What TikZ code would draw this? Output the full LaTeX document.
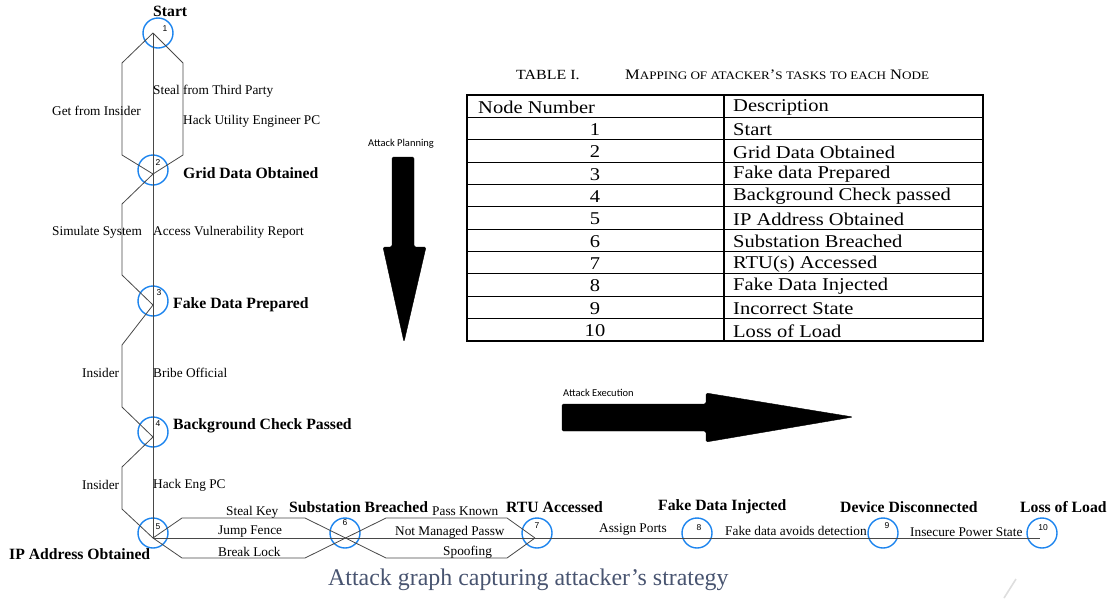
\documentclass[tikz,border=0pt]{standalone}
\usepackage{fontspec}
\setmainfont{Liberation Serif}
\newfontfamily\tabfont[FakeStretch=1.14]{Liberation Serif}
\newfontfamily\capfont{Liberation Serif}
\newfontfamily\numfont{Liberation Sans}
\newfontfamily\arrfont{Carlito}
\definecolor{nodeblue}{RGB}{28,132,238}
\definecolor{edgegray}{RGB}{72,72,72}
\definecolor{capcolor}{RGB}{72,84,112}
\newcommand\smallcap[1]{{\fontsize{11.5}{12}\selectfont #1}}

\begin{document}
\begin{tikzpicture}[x=1pt,y=-1pt,
  edge/.style={draw=edgegray, line width=0.8pt},
  state/.style={circle, draw=nodeblue, line width=1.4pt, minimum size=30pt, inner sep=0pt},
  lbl/.style={anchor=west, inner sep=0pt, font=\fontsize{13.3}{14}\selectfont},
  title/.style={anchor=west, inner sep=0pt, font=\fontsize{15.7}{16}\selectfont\bfseries},
  num/.style={inner sep=0pt, font=\numfont\fontsize{8.5}{9}\selectfont},
  tabtext/.style={inner sep=0pt, font=\tabfont\fontsize{18}{19}\selectfont},
  tabline/.style={draw=black, line width=1.1pt},
  bigarrow/.style={fill=black, draw=black, rounded corners=1.5pt},
  arrlabel/.style={anchor=west, inner sep=0pt, font=\arrfont\fontsize{10.5}{11}\selectfont}
]
\useasboundingbox (0,0) rectangle (1113,598);

% junction points of the attack graph
\coordinate (j1) at (153,33);
\coordinate (j2) at (153,174);
\coordinate (j3) at (153,305);
\coordinate (j4) at (153,437);
\coordinate (j5) at (153,538);
\coordinate (j7) at (535,538);
\coordinate (jend) at (1040,538);

% state circles
\node[state] (n1) at (158,33) {};
\node[state] (n2) at (153,170) {};
\node[state] (n3) at (153,301) {};
\node[state] (n4) at (153,432) {};
\node[state] (n5) at (153,533) {};
\node[state] (n6) at (345,533) {};
\node[state] (n7) at (537,533) {};
\node[state] (n8) at (697,533) {};
\node[state] (n9) at (883,533) {};
\node[state] (n10) at (1042,533) {};

% state numbers
\node[num] (k1) at (165,29) {1};
\node[num] (k2) at (158,163) {2};
\node[num] (k3) at (159,293) {3};
\node[num] (k4) at (158,424) {4};
\node[num] (k5) at (158,527) {5};
\node[num] (k6) at (345,523) {6};
\node[num] (k7) at (537,526) {7};
\node[num] (k8) at (699,528) {8};
\node[num] (k9) at (887,526) {9};
\node[num] (k10) at (1043,528) {10};

% planning edges (vertical spine and side branches)
\draw[edge] (j1) -- (j5);
\draw[edge] (j1) -- ++(-31,30) -- ++(0,92) -- (j2);
\draw[edge] (j1) -- ++(30,30) -- ++(0,92) -- (j2);
\draw[edge] (j2) -- ++(-31,30) -- ++(0,71) -- (j3);
\draw[edge] (j3) -- ++(-31,40) -- ++(0,62) -- (j4);
\draw[edge] (j4) -- ++(-31,30) -- ++(0,42) -- (j5);

% execution edges
\draw[edge] (j5) -- (jend);
\draw[edge] (j5) -- (182,518) -- (305,518) -- (386,558) -- (507,558) -- (j7);
\draw[edge] (j5) -- (182,558) -- (305,558) -- (386,518) -- (507,518) -- (j7);

% state titles
\node[title] (s1) at (153,11) {Start};
\node[title] (s2) at (183,173) {Grid Data Obtained};
\node[title] (s3) at (173,305) {Fake Data Prepared};
\node[title] (s4) at (173,426) {Background Check Passed};
\node[title] (s5) at (9,554) {IP Address Obtained};
\node[title] (s6) at (289,507) {Substation Breached};
\node[title] (s7) at (506,507) {RTU Accessed};
\node[title] (s8) at (658,507) {Fake Data Injected};
\node[title] (s9) at (840,507) {Device Disconnected};
\node[title] (s10) at (1020,507) {Loss of Load};

% action labels
\node[lbl] (a1) at (52,111) {Get from Insider};
\node[lbl] (a2) at (153,91) {Steal from Third Party};
\node[lbl] (a3) at (183,121) {Hack Utility Engineer PC};
\node[lbl] (a4) at (52,232) {Simulate System};
\node[lbl] (a5) at (153,232) {Access Vulnerability Report};
\node[lbl] (a6) at (82,373) {Insider};
\node[lbl] (a7) at (153,373) {Bribe Official};
\node[lbl] (a8) at (82,485) {Insider};
\node[lbl] (a9) at (153,485) {Hack Eng PC};
\node[lbl] (a10) at (226,512) {Steal Key};
\node[lbl] (a11) at (218,532) {Jump Fence};
\node[lbl] (a12) at (218,552) {Break Lock};
\node[lbl] (a13) at (432,511) {Pass Known};
\node[lbl] (a14) at (395,532) {Not Managed Passw};
\node[lbl] (a15) at (443,552) {Spoofing};
\node[lbl] (a16) at (599,530) {Assign Ports};
\node[lbl] (a17) at (725,531) {Fake data avoids detection};
\node[lbl] (a18) at (910,532) {Insecure Power State};

% phase arrows
\fill[bigarrow] (392,157) -- (414,157) -- (414,247) -- (426,247) -- (404,342) -- (383,247) -- (392,247) -- cycle;
\node[arrlabel] (p1) at (368,144) {Attack Planning};
\fill[bigarrow] (562,404) -- (706,404) -- (706,393) -- (853,417) -- (706,442) -- (706,431) -- (562,431) -- cycle;
\node[arrlabel] (p2) at (563,393) {Attack Execution};

% table caption
\node[anchor=west, inner sep=0pt, font=\tabfont\fontsize{14}{15}\selectfont] (tc1) at (516,75) {TABLE I.};
\node[anchor=west, inner sep=0pt, font=\tabfont\fontsize{14.5}{15}\selectfont] (tc2) at (625,75)
  {M\smallcap{APPING OF ATACKER}’\smallcap{S TASKS TO EACH} N\smallcap{ODE}};

% table grid
\draw[tabline] (467,95) rectangle (983,341);
\draw[tabline] (724,95) -- (724,341);
\foreach \i in {1,...,10} {
  \draw[tabline] (467,95+22.36*\i) -- (983,95+22.36*\i);
}
\node[tabtext, anchor=west] (th1) at (478,107.2) {Node Number};
\node[tabtext, anchor=west] (th2) at (733,107.2) {Description};
\foreach \i/\d in {1/Start, 2/Grid Data Obtained, 3/Fake data Prepared, 4/Background Check passed,
  5/IP Address Obtained, 6/Substation Breached, 7/RTU(s) Accessed, 8/Fake Data Injected,
  9/Incorrect State, 10/Loss of Load} {
  \node[tabtext] (tn\i) at (595,95+22.36*\i+12.2) {\i};
  \node[tabtext, anchor=west] (td\i) at (733,95+22.36*\i+12.2) {\d};
}

% figure caption
\node[anchor=west, inner sep=0pt, text=capcolor, font=\capfont\fontsize{23.9}{25}\selectfont] (cap) at (328,580)
  {Attack graph capturing attacker’s strategy};
\draw[draw={rgb,255:red,222;green,222;blue,222}, line width=1.6pt] (1016,579) -- (1004,598);
\end{tikzpicture}
\end{document}
